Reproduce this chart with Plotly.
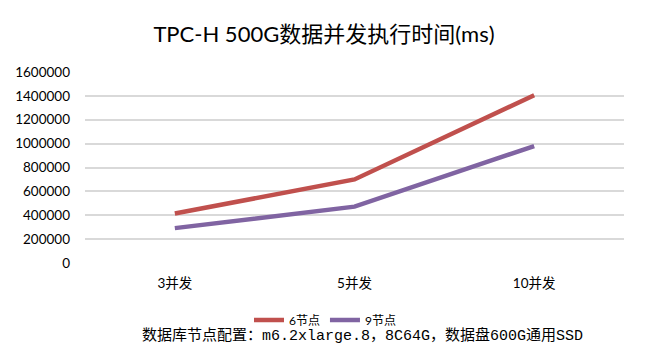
import plotly.graph_objects as go

categories = ["3并发", "5并发", "10并发"]
series_names = ["6节点", "9节点"]
nodes6 = [415000, 700000, 1405000]
nodes9 = [292000, 472000, 980000]
y_ticks = [0, 200000, 400000, 600000, 800000, 1000000, 1200000, 1400000, 1600000]
colors = ["#C0504D", "#8064A2"]

W, H = 646, 354
fig = go.Figure()
for name, vals, c in zip(series_names, [nodes6, nodes9], colors):
    fig.add_trace(go.Scatter(x=categories, y=vals, name=name, mode="lines",
                             line=dict(color=c, width=4.5)))

fig.update_layout(
    width=W, height=H,
    margin=dict(l=85, r=22, t=72, b=91),
    paper_bgcolor="white", plot_bgcolor="white",
    title=dict(text="TPC-H 500G数据并发执行时间(ms)", x=(324 - 0) / W, xanchor="center",
               y=1 - 34 / H, yanchor="middle",
               font=dict(family="Lato, Noto Sans CJK SC", size=22, color="#000000")),
    xaxis=dict(type="category", showgrid=False, zeroline=False, showline=False,
               ticks="", ticklabelstandoff=10,
               tickfont=dict(family="Lato, Noto Sans CJK SC", size=13.5, color="#000"),
               range=[-0.5, 2.5]),
    yaxis=dict(range=[0, 1600000], tickvals=y_ticks, ticktext=[str(v) for v in y_ticks],
               showgrid=True, gridcolor="#D9D9D9", gridwidth=1.5, zeroline=False,
               showline=False, ticks="", ticklabelstandoff=14,
               tickfont=dict(family="Lato, Noto Sans CJK SC", size=13.5, color="#000")),
    legend=dict(orientation="h", x=(325 - 85) / 539, xanchor="center",
                y=-(320 - 263) / (263 - 72),
                yanchor="middle", font=dict(family="Lato, Noto Sans CJK SC", size=12, color="#000"),
                itemwidth=30, tracegroupgap=0),
    showlegend=True,
)
fig.add_annotation(text="数据库节点配置：m6.2xlarge.8，8C64G，数据盘600G通用SSD",
                   xref="paper", yref="paper", x=(362.5 - 85) / 539, xanchor="center",
                   y=-(335 - 263) / (263 - 72), yanchor="middle", showarrow=False,
                   font=dict(family="Liberation Mono, Noto Sans CJK SC", size=15, color="#000"))
fig.write_html("out.html")
